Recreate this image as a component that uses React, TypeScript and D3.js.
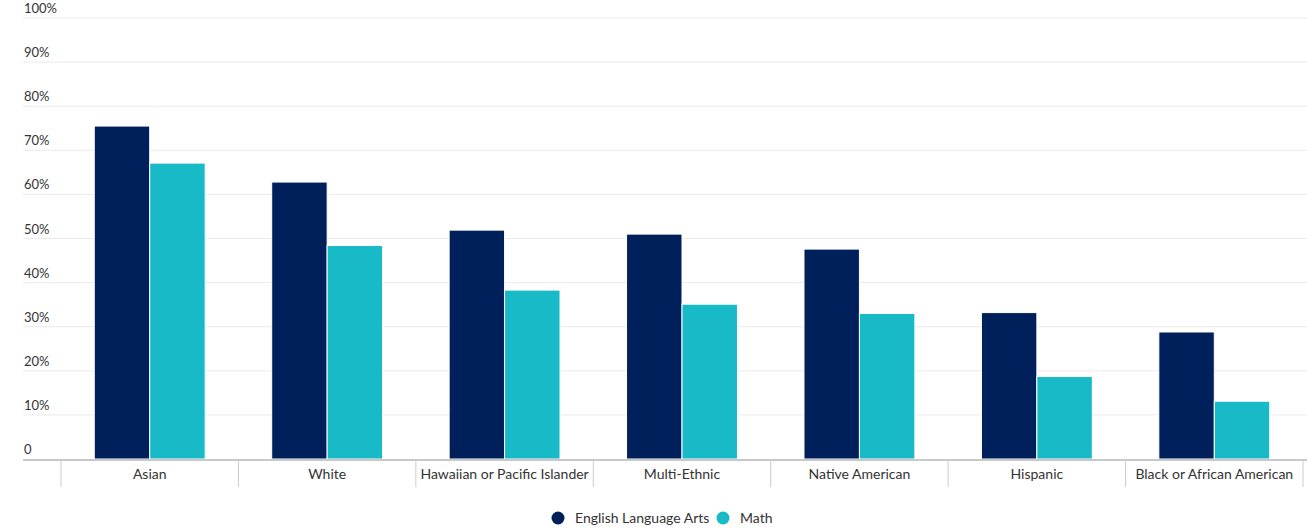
import React from "react";
import * as d3 from "d3";

const categories = [
  "Asian",
  "White",
  "Hawaiian or Pacific Islander",
  "Multi-Ethnic",
  "Native American",
  "Hispanic",
  "Black or African American",
];
const elaValues = [75.5, 62.8, 51.9, 51.0, 47.6, 33.2, 28.8];
const mathValues = [67.1, 48.4, 38.3, 35.1, 33.0, 18.7, 13.1];
const seriesNames = ["English Language Arts", "Math"];
const seriesColors = ["#00205B", "#17BAC6"];
const yTicks = [0, 10, 20, 30, 40, 50, 60, 70, 80, 90, 100];

const W = 1307;
const H = 529;
const FONT = "Lato, 'Open Sans', sans-serif";

export default function App() {
  const x = d3.scaleBand<string>().domain(categories).range([61, 1303]);
  const sub = d3
    .scaleBand<number>()
    .domain([0, 1])
    .range([0, x.bandwidth()])
    .paddingInner(0)
    .paddingOuter(0.6);
  const y = d3.scaleLinear().domain([0, 100]).range([459, 18]);
  const series = [elaValues, mathValues];

  const boundaries = categories.map((c) => x(c) as number).concat([x.range()[1]]);

  return (
    <svg
      width={W}
      height={H}
      style={{ position: "absolute", left: 0, top: 0, background: "#fff" }}
      fontFamily={FONT}
    >
      {/* grid */}
      {yTicks.slice(1).map((t) => (
        <line key={t} x1={23} x2={W} y1={y(t)} y2={y(t)} stroke="#ebebeb" strokeWidth={1} />
      ))}
      {/* y labels */}
      {yTicks.map((t) => (
        <text key={t} x={24} y={y(t) - 5} fontSize={13} fill="#333">
          {t === 0 ? "0" : `${t}%`}
        </text>
      ))}
      {/* bars */}
      {series.map((vals, si) =>
        categories.map((c, ci) => {
          const bx = (x(c) as number) + (sub(si) as number);
          return (
            <rect
              key={`${si}-${ci}`}
              x={bx}
              y={y(vals[ci])}
              width={sub.bandwidth()}
              height={y(0) - y(vals[ci])}
              fill={seriesColors[si]}
              stroke="#ffffff"
              strokeWidth={1}
            />
          );
        })
      )}
      {/* x axis */}
      <line x1={23} x2={W} y1={y(0) + 1} y2={y(0) + 1} stroke="#c8c8c8" strokeWidth={2} />
      {boundaries.map((b, i) => (
        <line key={i} x1={b} x2={b} y1={y(0)} y2={y(0) + 28} stroke="#cccccc" strokeWidth={1} />
      ))}
      {categories.map((c) => (
        <text
          key={c}
          x={(x(c) as number) + x.bandwidth() / 2}
          y={479}
          fontSize={14}
          fill="#333"
          textAnchor="middle"
        >
          {c}
        </text>
      ))}
      {/* legend */}
      <g>
        <circle cx={558} cy={518} r={6.5} fill={seriesColors[0]} />
        <text x={575} y={523} fontSize={14} fill="#333">
          {seriesNames[0]}
        </text>
        <circle cx={723} cy={518} r={6.5} fill={seriesColors[1]} />
        <text x={740} y={523} fontSize={14} fill="#333">
          {seriesNames[1]}
        </text>
      </g>
    </svg>
  );
}
